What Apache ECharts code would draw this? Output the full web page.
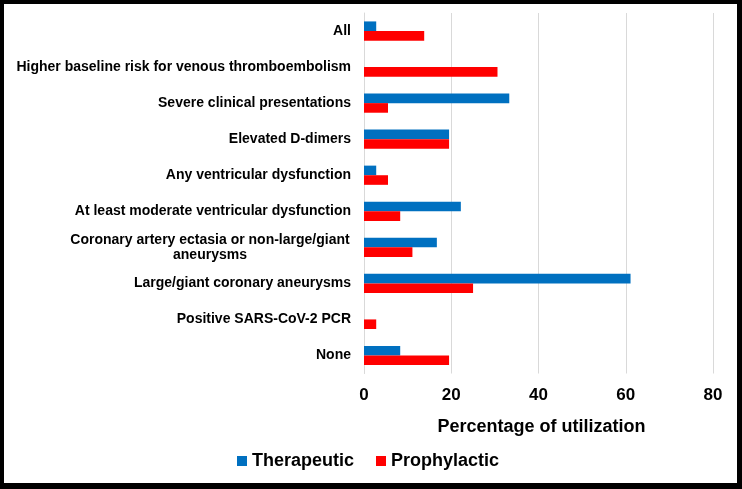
<!DOCTYPE html>
<html><head><meta charset="utf-8">
<script src="https://cdn.jsdelivr.net/npm/echarts@6/dist/echarts.min.js"></script>
<style>
html,body{margin:0;padding:0;background:#fff;}
#c{width:742px;height:489px;position:absolute;left:0;top:0;}
#frame{position:absolute;left:0;top:0;width:742px;height:489px;box-sizing:border-box;border-style:solid;border-color:#000;border-width:4px 5px 6px 4px;pointer-events:none;}
</style></head>
<body>
<div id="c"></div><div id="frame"></div>
<script>
const categories = [
  'All',
  'Higher baseline risk for venous thromboembolism',
  'Severe clinical presentations',
  'Elevated D-dimers',
  'Any ventricular dysfunction',
  'At least moderate ventricular dysfunction',
  'Coronary artery ectasia or non-large/giant\naneurysms',
  'Large/giant coronary aneurysms',
  'Positive SARS-CoV-2 PCR',
  'None'
];
const therapeutic = [2.8, 0, 33.3, 19.5, 2.8, 22.2, 16.7, 61.1, 0, 8.3];
const prophylactic = [13.8, 30.6, 5.5, 19.5, 5.5, 8.3, 11.1, 25.0, 2.8, 19.5];
const xTicks = [0, 20, 40, 60, 80];

const FONT = "'Liberation Sans', Arial, sans-serif";
const chart = echarts.init(document.getElementById('c'));
chart.setOption({
  backgroundColor: '#fff',
  animation: false,
  grid: {left: 364, right: 29, top: 13, bottom: 115.5, containLabel: false},
  legend: {
    data: ['Therapeutic', 'Prophylactic'],
    left: 232, top: 447,
    itemWidth: 10, itemHeight: 10, itemGap: 22,
    icon: 'rect',
    textStyle: {fontFamily: FONT, fontSize: 18, fontWeight: 'bold', color: '#000'}
  },
  xAxis: {
    type: 'value', min: xTicks[0], max: xTicks[xTicks.length-1], interval: 20,
    name: 'Percentage of utilization', nameLocation: 'middle', nameGap: 45,
    nameTextStyle: {fontFamily: FONT, fontSize: 18, fontWeight: 'bold', color: '#000', padding: [0,0,0,6]},
    axisLine: {show: false}, axisTick: {show: false},
    axisLabel: {fontFamily: FONT, fontSize: 17, fontWeight: 'bold', color: '#000', margin: 13},
    splitLine: {show: true, lineStyle: {color: '#d9d9d9', width: 1}}
  },
  yAxis: {
    type: 'category', data: categories, inverse: true,
    axisLine: {show: true, lineStyle: {color: '#d9d9d9', width: 1}},
    axisTick: {show: false},
    axisLabel: {
      fontFamily: FONT, fontSize: 14, fontWeight: 'bold', color: '#000', margin: 13,
      lineHeight: 15, interval: 0,
      formatter: function (v) {
        if (v.indexOf('\n') >= 0) {
          return v.split('\n').map(s => '{c|' + s + '}').join('\n');
        }
        return v;
      },
      rich: {c: {width: 282, align: 'center', fontFamily: FONT, fontSize: 14, fontWeight: 'bold', color: '#000', lineHeight: 15}}
    }
  },
  series: [
    {name: 'Therapeutic', type: 'bar', data: therapeutic, barWidth: 9.6, barGap: '0%',
     itemStyle: {color: '#0070C0'}},
    {name: 'Prophylactic', type: 'bar', data: prophylactic, barWidth: 9.6, barGap: '0%',
     itemStyle: {color: '#FF0000'}}
  ]
});
</script>
</body></html>
